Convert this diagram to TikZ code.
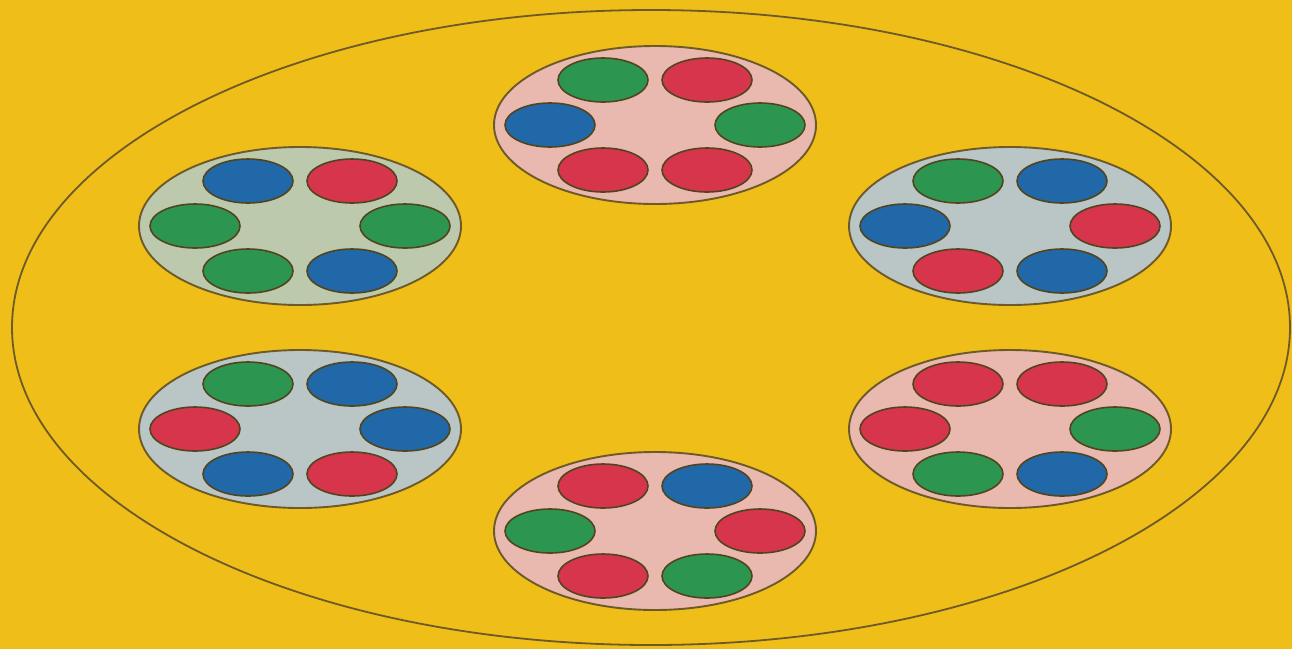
\documentclass[tikz,border=0pt]{standalone}
\usetikzlibrary{shapes.geometric}
\definecolor{bgyellow}{HTML}{EFBE18}
\definecolor{edge}{HTML}{6E5A28}
\definecolor{pinkfill}{HTML}{E9B9B0}
\definecolor{greenfill}{HTML}{BCC9AC}
\definecolor{bluefill}{HTML}{BAC6C6}
\definecolor{dotred}{HTML}{D6354B}
\definecolor{dotgreen}{HTML}{2C9650}
\definecolor{dotblue}{HTML}{2068A8}
\tikzset{
  outerring/.style={ellipse, draw=edge, line width=1.8pt, minimum width=1278pt, minimum height=635pt, inner sep=0pt},
  cluster/.style={ellipse, draw=edge, line width=1.9pt, minimum width=322pt, minimum height=158pt, inner sep=0pt},
  dot/.style={ellipse, draw=edge!75!black, line width=1.6pt, minimum width=90pt, minimum height=44pt, inner sep=0pt},
  R/.style={dot, fill=dotred},
  G/.style={dot, fill=dotgreen},
  B/.style={dot, fill=dotblue}
}
\newcommand{\mycluster}[9]{%
  \node[cluster, fill=#4] (#1) at (#2,#3) {};
  \node[#5] (#1-tl) at ([shift={(-52,-45)}]#1.center) {};
  \node[#6] (#1-tr) at ([shift={(52,-45)}]#1.center) {};
  \node[#7] (#1-l) at ([shift={(-105,0)}]#1.center) {};
  \node[#8] (#1-r) at ([shift={(105,0)}]#1.center) {};
  \mysecond{#1}{#9}%
}
\newcommand{\mysecond}[2]{\mythird{#1}#2}
\newcommand{\mythird}[3]{%
  \node[#2] (#1-bl) at ([shift={(-52,45)}]#1.center) {};
  \node[#3] (#1-br) at ([shift={(52,45)}]#1.center) {};
}
\begin{document}
\begin{tikzpicture}[x=1pt,y=-1pt]
\fill[bgyellow] (0,0) rectangle (1292,649);
\useasboundingbox (0,0) rectangle (1292,649);
\node[outerring] (ring) at (651,327.5) {};
\mycluster{top}{655}{125}{pinkfill}{G}{R}{B}{G}{{R}{R}}
\mycluster{lu}{300}{226}{greenfill}{B}{R}{G}{G}{{G}{B}}
\mycluster{ru}{1010}{226}{bluefill}{G}{B}{B}{R}{{R}{B}}
\mycluster{ll}{300}{429}{bluefill}{G}{B}{R}{B}{{B}{R}}
\mycluster{rl}{1010}{429}{pinkfill}{R}{R}{R}{G}{{G}{B}}
\mycluster{bot}{655}{531}{pinkfill}{R}{B}{G}{R}{{R}{G}}
\end{tikzpicture}
\end{document}
